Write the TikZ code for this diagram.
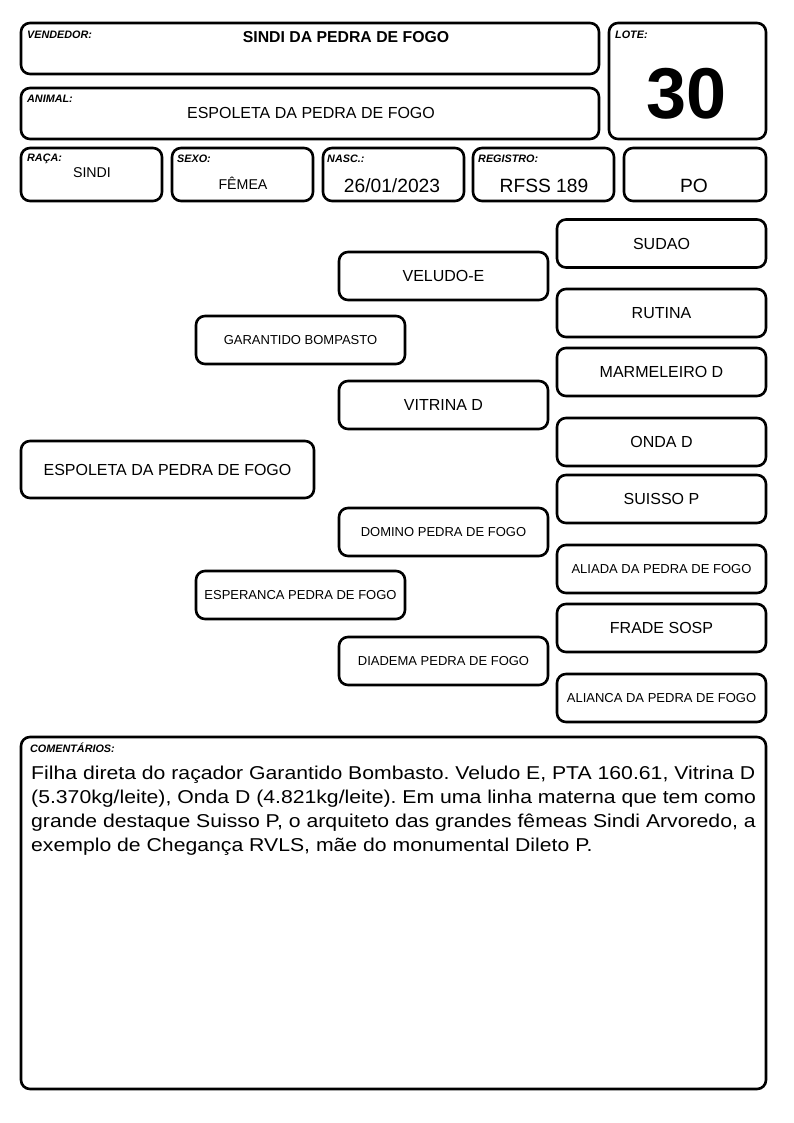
\documentclass[tikz,border=0pt]{standalone}
\usepackage{fontspec}
\setmainfont{Liberation Sans}
\newfontfamily\widesans[FakeStretch=1.14]{Liberation Sans}
\frenchspacing
\begin{document}
\begin{tikzpicture}[x=1pt,y=-1pt,
  box/.style={draw, line width=2.6pt, rounded corners=9pt, inner sep=0pt},
  lbl/.style={anchor=base west, inner sep=0pt, font=\fontsize{10.8}{12}\selectfont\bfseries\itshape},
  val/.style={anchor=base, inner sep=0pt, font=\fontsize{19.2}{22}\selectfont},
  ped/.style={box, minimum width=209pt, minimum height=48pt, font=\fontsize{16}{19}\selectfont},
  pedsm/.style={ped, font=\fontsize{13}{15}\selectfont}
]
\useasboundingbox (0,0) rectangle (794,1123);

% header boxes
\node[box, minimum width=578pt, minimum height=51pt] (vend) at (310,48.5) {};
\node[box, minimum width=578pt, minimum height=51pt] (anim) at (310,113.5) {};
\node[box, minimum width=157pt, minimum height=116pt] (lote) at (687.5,81) {};
\node[box, minimum width=141pt, minimum height=53pt] (raca) at (91.5,174.5) {};
\node[box, minimum width=141pt, minimum height=53pt] (sexo) at (242.5,174.5) {};
\node[box, minimum width=141pt, minimum height=53pt] (nasc) at (393.5,174.5) {};
\node[box, minimum width=141pt, minimum height=53pt] (regi) at (543.5,174.5) {};
\node[box, minimum width=142pt, minimum height=53pt] (po) at (695,174.5) {};

\node[lbl] (lvend) at (27,39) {VENDEDOR:};
\node[lbl] (lanim) at (27,103) {ANIMAL:};
\node[lbl] (llote) at (615,39) {LOTE:};
\node[lbl] (lraca) at (27,162) {RAÇA:};
\node[lbl] (lsexo) at (177,163) {SEXO:};
\node[lbl] (lnasc) at (327,163) {NASC.:};
\node[lbl] (lregi) at (478,163) {REGISTRO:};

\node[anchor=base, inner sep=0pt, font=\fontsize{15.8}{18}\selectfont\bfseries] (tvend) at (346,43) {SINDI DA PEDRA DE FOGO};
\node[anchor=base, inner sep=0pt, font=\fontsize{16}{19}\selectfont] (tanim) at (311,119) {ESPOLETA DA PEDRA DE FOGO};
\node[anchor=base, inner sep=0pt, font=\fontsize{72}{80}\selectfont\bfseries] (tlote) at (687,119) {30};
\node[anchor=base, inner sep=0pt, font=\fontsize{14.2}{17}\selectfont] (traca) at (92,178) {SINDI};
\node[anchor=base, inner sep=0pt, font=\fontsize{14.2}{17}\selectfont] (tsexo) at (243,190) {FÊMEA};
\node[val] (tnasc) at (392,193) {26/01/2023};
\node[val] (tregi) at (544,193) {RFSS 189};
\node[val] (tpo) at (694,193) {PO};

% pedigree
\node[ped] (sudao) at (661.5,243.5) {SUDAO};
\node[ped] (veludo) at (443.5,276) {VELUDO-E};
\node[ped] (rutina) at (661.5,313) {RUTINA};
\node[pedsm] (garant) at (300.5,340) {GARANTIDO BOMPASTO};
\node[ped] (marm) at (661.5,372) {MARMELEIRO D};
\node[ped] (vitrina) at (443.5,405) {VITRINA D};
\node[ped] (onda) at (661.5,442) {ONDA D};
\node[box, minimum width=293pt, minimum height=57pt, font=\fontsize{16}{19}\selectfont] (espo) at (167.5,469.5) {ESPOLETA DA PEDRA DE FOGO};
\node[ped] (suisso) at (661.5,499) {SUISSO P};
\node[pedsm] (domino) at (443.5,532) {DOMINO PEDRA DE FOGO};
\node[pedsm] (aliada) at (661.5,569) {ALIADA DA PEDRA DE FOGO};
\node[pedsm] (esper) at (300.5,595) {ESPERANCA PEDRA DE FOGO};
\node[ped] (frade) at (661.5,628) {FRADE SOSP};
\node[pedsm] (diadema) at (443.5,661) {DIADEMA PEDRA DE FOGO};
\node[pedsm] (alianca) at (661.5,698) {ALIANCA DA PEDRA DE FOGO};

% comments
\node[box, minimum width=745pt, minimum height=352pt] (coment) at (393.5,913) {};
\node[lbl] (lcoment) at (30,752) {COMENTÁRIOS:};
\node[anchor=north west, inner sep=0pt, align=left, font=\widesans\fontsize{18.6}{24}\selectfont] (tcoment) at (31,766) {Filha direta do raçador Garantido Bombasto. Veludo E, PTA 160.61, Vitrina D\\(5.370kg/leite), Onda D (4.821kg/leite). Em uma linha materna que tem como\\grande destaque Suisso P, o arquiteto das grandes fêmeas Sindi Arvoredo, a\\exemplo de Chegança RVLS, mãe do monumental Dileto P.};
\end{tikzpicture}
\end{document}
